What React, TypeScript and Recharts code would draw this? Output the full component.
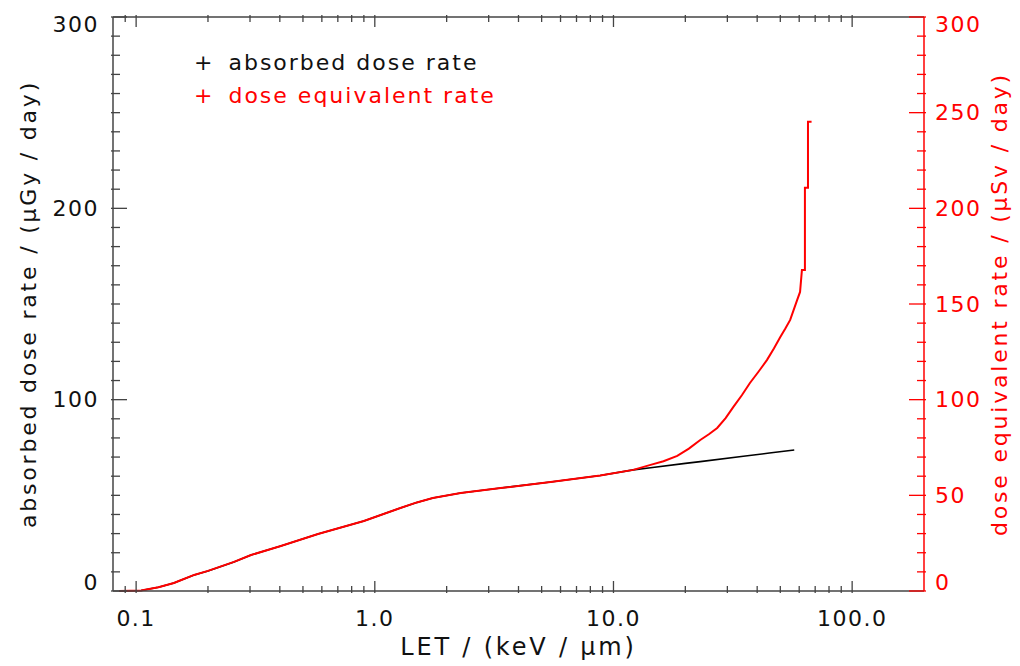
import React from 'react';
import { LineChart, Line, XAxis, YAxis, Legend } from 'recharts';

// LET bins (keV/µm) where both rates coincide (quality factor 1)
const LET_SHARED = [0.085, 0.105, 0.124, 0.144, 0.151, 0.175, 0.2, 0.257, 0.303, 0.404, 0.578, 0.9, 1.28, 1.5, 1.75, 2.29, 3.37, 5.45, 8.8, 12.1];
const DOSE_SHARED = [0, 0.3, 2, 4.2, 5.2, 8.4, 10.5, 15.2, 18.8, 23.5, 29.8, 36.6, 43.4, 46.3, 48.6, 51.2, 53.8, 57, 60.4, 63.3];

// absorbed dose rate above 12 keV/µm (µGy/day)
const LET_ABSORBED_TAIL = [14.3, 20, 23.1, 35, 45, 57.2];
const DOSE_ABSORBED_TAIL = [64.4, 66.7, 67.6, 70.4, 72.1, 73.7];

// dose equivalent rate above 12 keV/µm (µSv/day)
const LET_EQUIV_TAIL = [14.3, 16.2, 18.5, 20.7, 23.1, 25.1, 27.2, 29.5, 31.8, 34.5, 37.3, 40.5, 44, 47, 50, 52.5, 55, 58.8, 60.5, 61.6, 63.4, 63.4, 65.3, 65.3, 67.6];
const DOSE_EQUIV_TAIL = [65.9, 67.8, 70.6, 74.4, 78.9, 81.9, 85.2, 90.4, 96.2, 102.3, 108.7, 114.6, 120.8, 126.8, 132.8, 137.2, 141.7, 152, 156.3, 167.8, 167.8, 210.7, 210.7, 245.2, 245.2];

const X_MAJOR = [0.1, 1, 10, 100];
const X_MINOR = [0.09, 0.2, 0.3, 0.4, 0.5, 0.6, 0.7, 0.8, 0.9, 2, 3, 4, 5, 6, 7, 8, 9, 20, 30, 40, 50, 60, 70, 80, 90];
const X_TICKS = [...X_MAJOR, ...X_MINOR].sort((a, b) => a - b);
const Y_TICKS = Array.from({ length: 31 }, (_, i) => i * 10);

const FONT = '"DejaVu Sans", Verdana, sans-serif';
const GRAY = '#444';
const RED = '#ff0000';

const zip = (xs: number[], ys: number[]) => xs.map((x, i) => ({ let: x, v: ys[i] }));
const absorbed = zip([...LET_SHARED, ...LET_ABSORBED_TAIL], [...DOSE_SHARED, ...DOSE_ABSORBED_TAIL]);
const equivalent = zip([...LET_SHARED, ...LET_EQUIV_TAIL], [...DOSE_SHARED, ...DOSE_EQUIV_TAIL]);

const textStyle = { fontFamily: FONT, fontSize: 22, letterSpacing: 1.5 };
const titleStyle = { fontFamily: FONT, fontSize: 22, letterSpacing: 2.8 };

// ── inward-pointing ticks, IDL style ─────────────────────────────────────────
const BottomTick = ({ x, y, payload }: any) => {
    const major = X_MAJOR.includes(payload.value);
    return (
        <g>
            <line x1={x} x2={x} y1={y} y2={y - (major ? 12 : 7)} stroke={GRAY} strokeWidth={1.3} />
            {major && (
                <text x={x} y={y + 25} textAnchor="middle" dominantBaseline="central" fill="#111" style={textStyle}>
                    {payload.value.toFixed(1)}
                </text>
            )}
        </g>
    );
};

const TopTick = ({ x, y, payload }: any) => {
    const major = X_MAJOR.includes(payload.value);
    return <line x1={x} x2={x} y1={y} y2={y + (major ? 12 : 7)} stroke={GRAY} strokeWidth={1.3} />;
};

const labelShift = (v: number) => (v === 0 ? -9 : v === 300 ? 7 : 0);

const LeftTick = ({ x, y, payload }: any) => {
    const v = payload.value;
    const major = v % 100 === 0;
    return (
        <g>
            <line x1={x} x2={x + (major ? 16 : 9)} y1={y} y2={y} stroke={GRAY} strokeWidth={1.3} />
            {major && (
                <text x={x - 12} y={y + labelShift(v)} textAnchor="end" dominantBaseline="central" fill="#111" style={textStyle}>
                    {v}
                </text>
            )}
        </g>
    );
};

const RightTick = ({ x, y, payload }: any) => {
    const v = payload.value;
    const major = v % 50 === 0;
    return (
        <g>
            <line x1={x} x2={x - (major ? 17 : 9)} y1={y} y2={y} stroke={RED} strokeWidth={1.3} />
            {major && (
                <text x={x + 9} y={y + labelShift(v)} textAnchor="start" dominantBaseline="central" fill={RED} style={textStyle}>
                    {v}
                </text>
            )}
        </g>
    );
};

const LegendBlock = () => (
    <div style={{ fontFamily: FONT, fontSize: 22, letterSpacing: 2, lineHeight: '33px', whiteSpace: 'nowrap' }}>
        <div style={{ color: '#111' }}><span style={{ marginRight: 14 }}>+</span>absorbed dose rate</div>
        <div style={{ color: RED }}><span style={{ marginRight: 14 }}>+</span>dose equivalent rate</div>
    </div>
);

export default function App() {
    return (
        <div style={{ position: 'absolute', left: 0, top: 0 }}>
            <LineChart width={1020} height={666} margin={{ top: 16, right: 95, bottom: 74, left: 112 }}>
                <XAxis
                    xAxisId="b" dataKey="let" type="number" scale="log" domain={[0.08, 200]} allowDataOverflow
                    ticks={X_TICKS} interval={0} tickSize={0} tickLine={false} height={1}
                    stroke={GRAY} strokeWidth={1.5} tick={<BottomTick />}
                    label={{
                        content: ({ viewBox }: any) => (
                            <text x={viewBox.x + viewBox.width / 2} y={655} textAnchor="middle" fill="#111"
                                style={{ fontFamily: FONT, fontSize: 24, letterSpacing: 2.8 }}>
                                LET / (keV / μm)
                            </text>
                        ),
                    }}
                />
                <XAxis
                    xAxisId="t" orientation="top" dataKey="let" type="number" scale="log" domain={[0.08, 200]} allowDataOverflow
                    ticks={X_TICKS} interval={0} tickSize={0} tickLine={false} height={1}
                    stroke={GRAY} strokeWidth={1.5} tick={<TopTick />}
                />
                <YAxis
                    yAxisId="left" type="number" domain={[0, 300]} ticks={Y_TICKS} interval={0}
                    tickSize={0} tickLine={false} width={1} stroke={GRAY} strokeWidth={1.5} tick={<LeftTick />}
                    label={{
                        content: ({ viewBox }: any) => {
                            const cy = viewBox.y + viewBox.height / 2;
                            return (
                                <text x={28} y={cy} transform={`rotate(-90 28 ${cy})`} textAnchor="middle" dominantBaseline="central" fill="#111" style={titleStyle}>
                                    absorbed dose rate / (μGy / day)
                                </text>
                            );
                        },
                    }}
                />
                <YAxis
                    yAxisId="right" orientation="right" type="number" domain={[0, 300]} ticks={Y_TICKS} interval={0}
                    tickSize={0} tickLine={false} width={1} stroke={RED} strokeWidth={1.5} tick={<RightTick />}
                    label={{
                        content: ({ viewBox }: any) => {
                            const cy = viewBox.y + viewBox.height / 2;
                            return (
                                <text x={999} y={cy} transform={`rotate(-90 999 ${cy})`} textAnchor="middle" dominantBaseline="central" fill={RED} style={titleStyle}>
                                    dose equivalent rate / (μSv / day)
                                </text>
                            );
                        },
                    }}
                />
                <Legend
                    layout="vertical" align="center" verticalAlign="middle"
                    content={<LegendBlock />}
                    wrapperStyle={{ left: 194, top: 46, width: 'auto' }}
                />
                <Line
                    xAxisId="b" yAxisId="left" data={absorbed} dataKey="v" type="linear"
                    stroke="#000" strokeWidth={1.6} dot={false} isAnimationActive={false}
                />
                <Line
                    xAxisId="b" yAxisId="right" data={equivalent} dataKey="v" type="linear"
                    stroke={RED} strokeWidth={2} dot={false} isAnimationActive={false}
                />
            </LineChart>
        </div>
    );
}
